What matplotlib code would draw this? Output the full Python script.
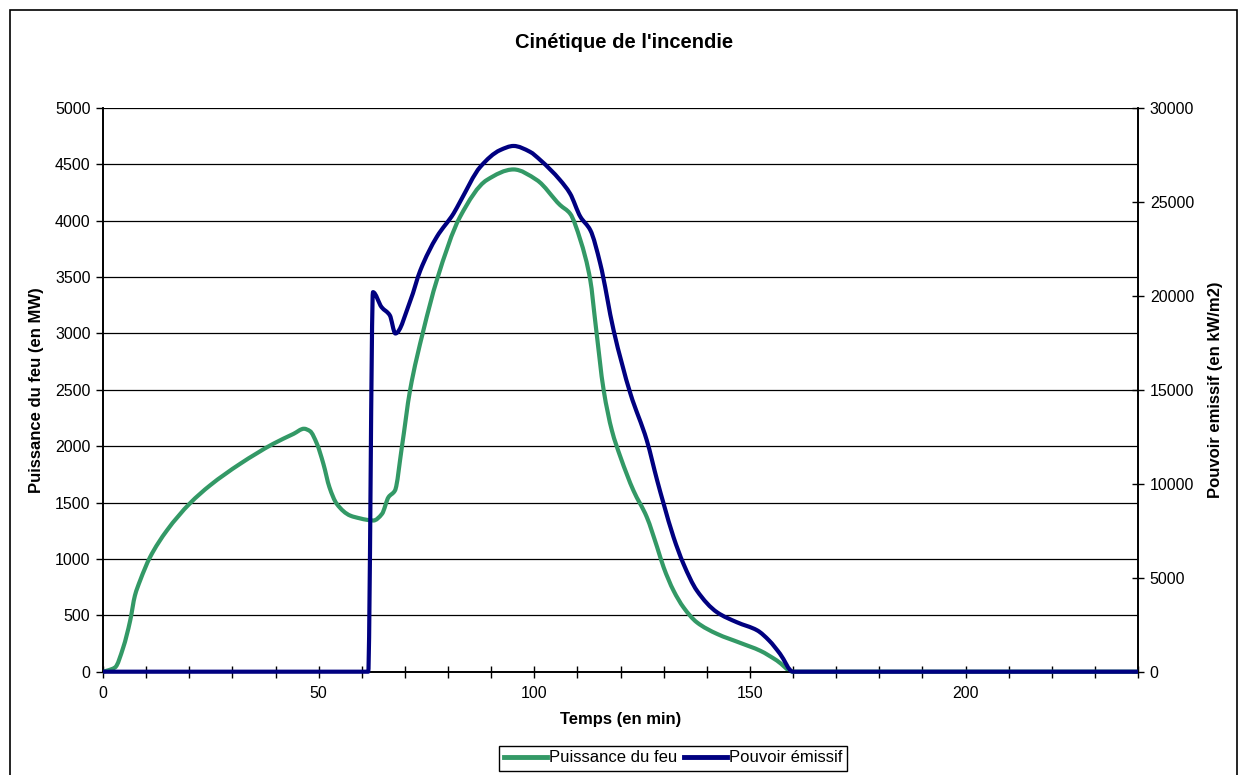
import numpy as np
import matplotlib
matplotlib.use("Agg")
import matplotlib.pyplot as plt
from matplotlib.patches import Rectangle, PathPatch
from matplotlib.path import Path
from matplotlib.lines import Line2D

plt.rcParams['font.family'] = ['Liberation Sans', 'DejaVu Sans']

# Fire heat release rate (MW) versus time (min)
temps_feu = [0, 1, 2.8, 4.7, 6.3, 7.4, 8.6, 10.9, 14.8, 20.2, 24.8, 31.8, 39.5, 44.2,
             46.6, 48, 49.6, 51.1, 52.5, 54.2, 57.3, 59.6, 61.2, 62.7, 64.7, 66.2,
             67.7, 69.3, 71.2, 74.3, 77.4, 82.8, 89, 95.2, 100.6, 106, 108.3, 110.7,
             113, 114.2, 116.1, 118, 120, 123, 126.1, 128.5, 130, 132.3, 134.6,
             137.7, 142.4, 147.8, 152.4, 156.3, 160, 240]
puissance_feu = [0, 10, 38, 216, 453, 675, 808, 1015, 1252, 1495, 1652, 1844, 2022, 2110,
                 2155, 2134, 2022, 1844, 1637, 1489, 1385, 1360, 1347, 1341, 1400, 1548,
                 1607, 1992, 2496, 3028, 3472, 4035, 4361, 4455, 4361, 4139, 4064, 3828,
                 3472, 3088, 2496, 2140, 1903, 1607, 1371, 1104, 926, 719, 571,
                 438, 335, 255, 186, 98, 0, 0]

# Emissive power (kW/m2) versus time (min)
temps_emissif = [0, 61.5, 62.6, 64.6, 66.5, 67.8, 71.3, 73.6, 77.4, 81.3, 82.8, 87.5,
                 92.1, 95.2, 99, 101.4, 106, 108.3, 110.7, 113, 115.3, 118.4, 122.3,
                 126.1, 128.5, 130, 132.3, 134.6, 137.7, 142.4, 147, 151.7, 154.5,
                 157, 160, 240]
pouvoir_emissif = [0, 0, 20200, 19400, 18970, 18000, 19770, 21370, 23140, 24390, 25010,
                   26870, 27760, 27980, 27670, 27230, 26160, 25450, 24210, 23500, 21720,
                   18170, 14800, 12310, 10180, 8940, 7160, 5740, 4320, 3160, 2630, 2200,
                   1650, 950, 0, 0]

x_labels = [0, 50, 100, 150, 200]


def smooth_path(x, y):
    """Smoothed line through the points, as cubic Bezier segments
    (monotone Hermite tangents, so no overshoot between points)."""
    x = np.asarray(x, float)
    y = np.asarray(y, float)
    h = np.diff(x)
    d = np.diff(y) / h
    n = len(x)
    m = np.zeros(n)
    m[0], m[-1] = d[0], d[-1]
    for k in range(1, n - 1):
        if d[k - 1] * d[k] > 0:
            w1 = 2 * h[k] + h[k - 1]
            w2 = h[k] + 2 * h[k - 1]
            m[k] = (w1 + w2) / (w1 / d[k - 1] + w2 / d[k])
    verts = [(x[0], y[0])]
    codes = [Path.MOVETO]
    for i in range(n - 1):
        verts += [(x[i] + h[i] / 3, y[i] + m[i] * h[i] / 3),
                  (x[i + 1] - h[i] / 3, y[i + 1] - m[i + 1] * h[i] / 3),
                  (x[i + 1], y[i + 1])]
        codes += [Path.CURVE4] * 3
    return Path(verts, codes)


W, H = 1249, 775
fig = plt.figure(figsize=(W / 100, H / 100), dpi=100)

# chart area border
fig.patches.append(Rectangle((10 / W, -0.01), (W - 12 - 10) / W, 1 - 10 / H + 0.01,
                             transform=fig.transFigure, fill=False,
                             edgecolor='black', linewidth=1.2))

left, right, top, bottom = 103, 1138, 108, 671.7
ax = fig.add_axes([left / W, 1 - bottom / H, (right - left) / W, (bottom - top) / H])
ax2 = ax.twinx()

green = '#339966'
navy = '#000080'
lw = 3.0

ax.add_patch(PathPatch(smooth_path(temps_feu, puissance_feu), facecolor='none',
                       edgecolor=green, lw=lw, joinstyle='round', capstyle='butt',
                       zorder=3, clip_on=False))
ax2.add_patch(PathPatch(smooth_path(temps_emissif, pouvoir_emissif), facecolor='none',
                        edgecolor=navy, lw=lw, joinstyle='round', capstyle='butt',
                        zorder=3, clip_on=False))

ax.set_xlim(0, 240)
ax.set_ylim(0, 5000)
ax2.set_ylim(0, 30000)

ax.set_yticks(range(0, 5001, 500))
ax2.set_yticks(range(0, 30001, 5000))
ax.set_xticks(range(0, 241, 10))
ax.set_xticklabels([str(v) if v in x_labels else '' for v in range(0, 241, 10)])

ax.grid(axis='y', color='black', lw=0.9)
ax.set_axisbelow(True)

for a in (ax, ax2):
    a.spines['top'].set_visible(False)
    for s in a.spines.values():
        s.set_linewidth(1.2)

fs_tick = 11.5
ax.tick_params(axis='y', direction='out', length=5, width=1, labelsize=fs_tick, pad=4)
ax.tick_params(axis='x', direction='inout', length=8, width=1, labelsize=fs_tick, pad=6)
ax2.tick_params(axis='y', direction='inout', length=9, width=1, labelsize=fs_tick, pad=4)

ax.set_xlabel('Temps (en min)', fontsize=12, fontweight='bold', labelpad=8)
ax.set_ylabel('Puissance du feu (en MW)', fontsize=12, fontweight='bold', labelpad=8)
ax2.set_ylabel('Pouvoir emissif (en kW/m2)', fontsize=12, fontweight='bold', labelpad=10)

fig.text(0.5, 1 - 43 / H, "Cinétique de l'incendie", ha='center', va='center',
         fontsize=14.5, fontweight='bold')

handles = [Line2D([], [], color=green, lw=3.5), Line2D([], [], color=navy, lw=3.5)]
leg = fig.legend(handles, ['Puissance du feu', 'Pouvoir émissif'], loc='center',
                 bbox_to_anchor=(673 / W, 1 - 758 / H), ncol=2, fontsize=12,
                 frameon=True, fancybox=False, edgecolor='black', framealpha=1,
                 handlelength=2.6, handletextpad=0.1, columnspacing=0.4,
                 borderpad=0.3, borderaxespad=0)
leg.get_frame().set_linewidth(1.0)

fig.savefig('out.png', dpi=100)
